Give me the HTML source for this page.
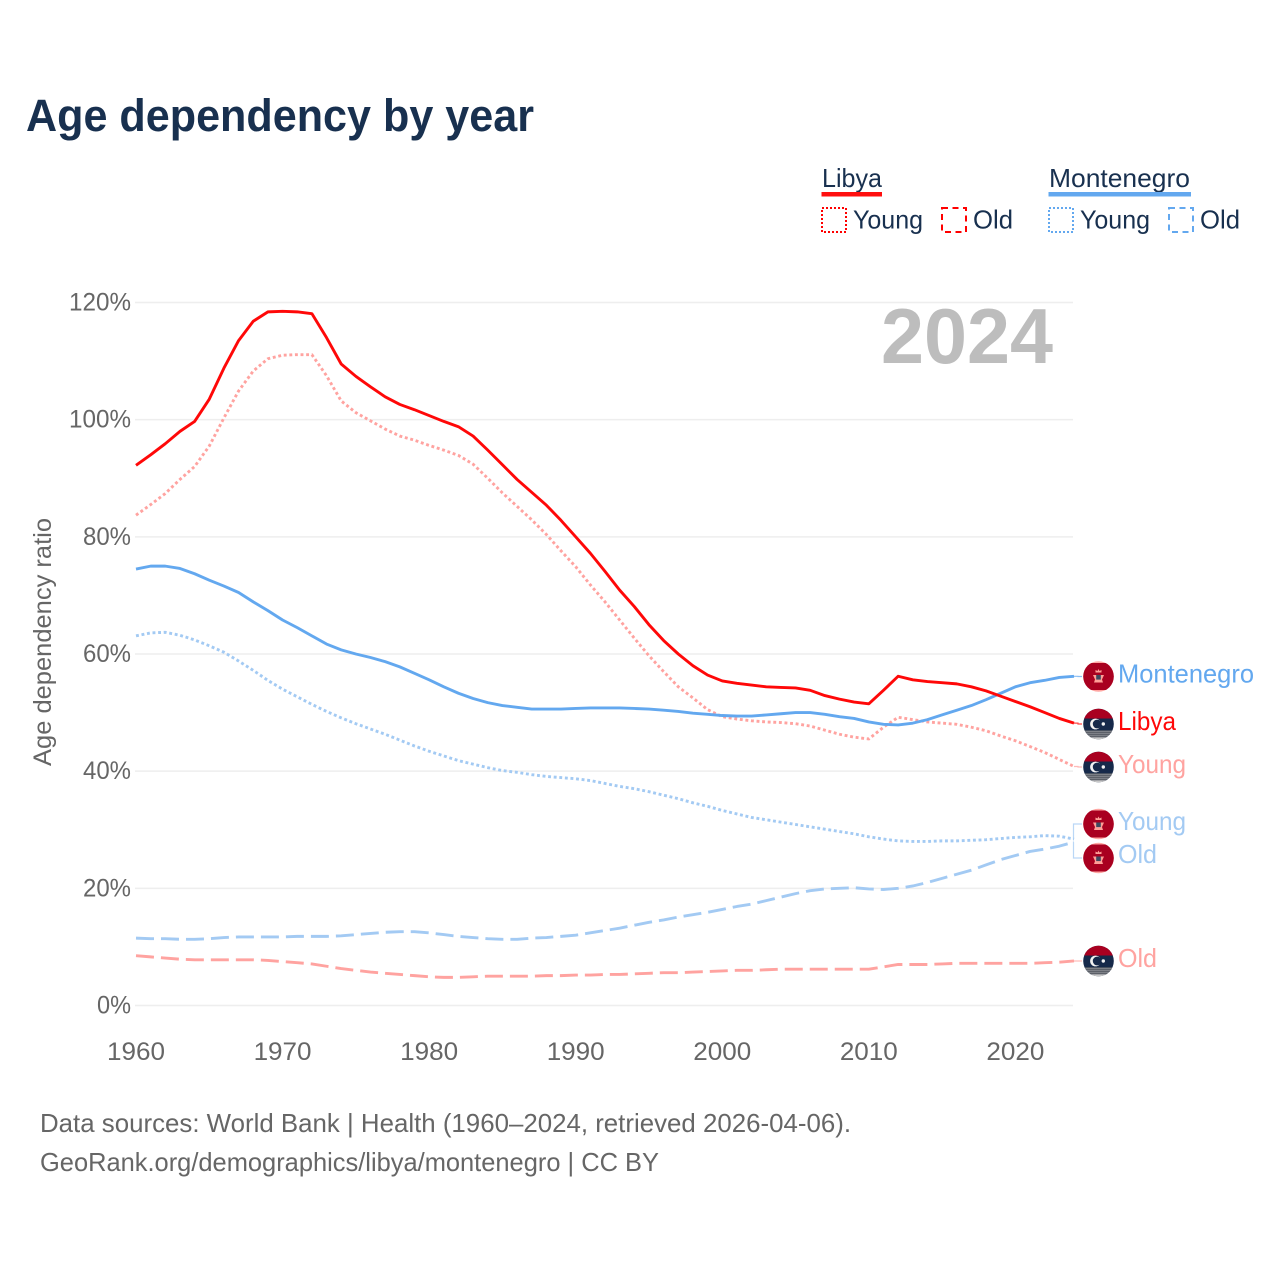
<!DOCTYPE html>
<html lang="en">
<head>
<meta charset="utf-8">
<title>Age dependency by year</title>
<style>
html,body{margin:0;padding:0;background:#fff;width:1280px;height:1280px;overflow:hidden}
svg{display:block}
text{font-family:"Liberation Sans",sans-serif}
</style>
</head>
<body>
<svg id="chart" xmlns="http://www.w3.org/2000/svg" width="1280" height="1280" viewBox="0 0 1280 1280">
  <defs>
    <clipPath id="flag-clip-a"><circle cx="0" cy="0" r="15.300"/></clipPath>
    <pattern id="flag-dots" width="2" height="2" patternUnits="userSpaceOnUse">
      <rect width="2" height="2" fill="#7d8087"/>
      <rect width="1" height="1" fill="#3c4048"/>
    </pattern>
    <g id="flag-libya">
      <g clip-path="url(#flag-clip-a)">
        <rect x="-16" y="-16" width="32" height="32" fill="#16294a"/>
        <rect x="-16" y="-16" width="32" height="10.500" fill="#a90020"/>
        <rect x="-16" y="6.300" width="32" height="10" fill="url(#flag-dots)"/>
        <rect x="-16" y="13.500" width="32" height="3" fill="#c9c9c9"/>
      </g>
      <circle cx="-3" cy="0" r="5.400" fill="#f2f2f2"/>
      <circle cx="-1.300" cy="0" r="4.400" fill="#16294a"/>
      <circle cx="4.800" cy="0" r="1.700" fill="#f2f2f2"/>
    </g>
    <g id="flag-montenegro">
      <circle cx="0" cy="0" r="15.300" fill="#ffa7a3"/>
      <g clip-path="url(#flag-clip-a)">
        <rect x="-16" y="-13.500" width="32" height="27" fill="#a90020"/>
      </g>
      <path d="M-3 -4 L-3 -6.500 L-1 -5.500 L0 -7.500 L1 -5.500 L3 -6.500 L3 -4 Z" fill="#ff9f97"/>
      <path d="M-5.500 -1.500 L5.500 -1.500 L3.500 3 L4.500 6 L-4.500 6 L-3.500 3 Z" fill="#ff9f97"/>
      <rect x="-2.300" y="-1.500" width="4.600" height="4.600" fill="#3c4a60"/>
    </g>
  </defs>

  <text x="26" y="131" font-size="45" font-weight="700" fill="#18304f" textLength="508" lengthAdjust="spacingAndGlyphs">Age dependency by year</text>

  <g>
    <text x="822" y="187" font-size="26" fill="#18304f" textLength="60" lengthAdjust="spacingAndGlyphs">Libya</text>
    <rect x="821.500" y="192" width="60.500" height="4.500" fill="#ff0f0f"/>
    <text x="1049" y="187" font-size="26" fill="#18304f" textLength="141" lengthAdjust="spacingAndGlyphs">Montenegro</text>
    <rect x="1048.500" y="192" width="142.500" height="4.500" fill="#63a8ef"/>

    <rect x="822" y="208" width="24" height="24" fill="none" stroke="#ff0000" stroke-width="2" stroke-dasharray="2 2"/>
    <text x="853" y="228.500" font-size="26" fill="#18304f" textLength="70" lengthAdjust="spacingAndGlyphs">Young</text>
    <rect x="942" y="208" width="24" height="24" fill="none" stroke="#ff0000" stroke-width="2" stroke-dasharray="6 4.500"/>
    <text x="973" y="228.500" font-size="26" fill="#18304f" textLength="40" lengthAdjust="spacingAndGlyphs">Old</text>

    <rect x="1049" y="208" width="24" height="24" fill="none" stroke="#63a8ef" stroke-width="2" stroke-dasharray="2 2"/>
    <text x="1080" y="228.500" font-size="26" fill="#18304f" textLength="70" lengthAdjust="spacingAndGlyphs">Young</text>
    <rect x="1169" y="208" width="24" height="24" fill="none" stroke="#63a8ef" stroke-width="2" stroke-dasharray="6 4.500"/>
    <text x="1200" y="228.500" font-size="26" fill="#18304f" textLength="40" lengthAdjust="spacingAndGlyphs">Old</text>
  </g>

  <g id="grid"></g>
  <g id="yticks"></g>
  <g id="xticks"></g>

  <text transform="translate(51,642) rotate(-90)" text-anchor="middle" font-size="25" fill="#666666" textLength="248" lengthAdjust="spacingAndGlyphs">Age dependency ratio</text>

  <text x="881" y="363" font-size="78" font-weight="700" fill="#bdbdbd" textLength="172" lengthAdjust="spacingAndGlyphs">2024</text>

  <g id="series"></g>
  <g id="ends"></g>

  <text x="40" y="1132" font-size="26" fill="#666666" textLength="811" lengthAdjust="spacingAndGlyphs">Data sources: World Bank | Health (1960–2024, retrieved 2026-04-06).</text>
  <text x="40" y="1171" font-size="26" fill="#666666" textLength="619" lengthAdjust="spacingAndGlyphs">GeoRank.org/demographics/libya/montenegro | CC BY</text>
</svg>

<script>
const startYear = 1960;
const endYear = 2024;
const yTickValues = [0, 20, 40, 60, 80, 100, 120];
const yTickLabels = ["0%", "20%", "40%", "60%", "80%", "100%", "120%"];
const xTickValues = [1960, 1970, 1980, 1990, 2000, 2010, 2020];
const xTickLabels = ["1960", "1970", "1980", "1990", "2000", "2010", "2020"];

const libyaOld = [8.5,8.3,8.1,7.9,7.8,7.8,7.8,7.8,7.8,7.7,7.5,7.3,7.1,6.7,6.3,6,5.7,5.5,5.3,5.1,4.9,4.8,4.8,4.9,5,5,5,5,5.1,5.1,5.2,5.2,5.3,5.3,5.4,5.5,5.6,5.6,5.7,5.8,5.9,6,6,6.1,6.2,6.2,6.2,6.2,6.2,6.2,6.2,6.6,7,7,7,7.1,7.2,7.2,7.2,7.2,7.2,7.2,7.3,7.4,7.6];
const montenegroOld = [11.5,11.4,11.4,11.3,11.3,11.4,11.6,11.7,11.7,11.7,11.7,11.8,11.8,11.8,11.9,12.1,12.3,12.5,12.6,12.6,12.4,12.1,11.8,11.6,11.4,11.3,11.3,11.5,11.6,11.8,12,12.4,12.8,13.2,13.7,14.2,14.6,15.1,15.5,15.9,16.4,16.9,17.3,17.9,18.5,19.1,19.6,19.9,20,20.1,19.9,19.8,20,20.4,21,21.7,22.4,23.1,24,24.9,25.6,26.3,26.7,27.2,27.9];
const montenegroYoung = [63.1,63.6,63.7,63.2,62.4,61.4,60.3,58.8,57.2,55.5,54,52.7,51.4,50.2,49.1,48.1,47.2,46.3,45.3,44.3,43.4,42.6,41.8,41.2,40.6,40.1,39.8,39.4,39.1,38.9,38.7,38.4,37.9,37.4,37,36.5,35.9,35.3,34.6,34,33.3,32.7,32.1,31.7,31.3,30.9,30.5,30.1,29.7,29.3,28.8,28.4,28.1,28,28,28.1,28.1,28.2,28.3,28.5,28.7,28.8,29,28.9,28.4];
const libyaYoung = [83.7,85.5,87.4,89.8,92,95.5,100.3,104.9,108.3,110.4,111,111.1,111.1,107.5,103.2,101.2,99.8,98.4,97.2,96.5,95.6,94.8,93.9,92.4,90,87.5,85.2,82.9,80.4,77.6,74.9,71.8,68.9,65.8,62.7,59.7,57,54.4,52.5,50.5,49.3,48.9,48.6,48.4,48.3,48.1,47.7,47,46.3,45.8,45.5,47.5,49.2,48.8,48.4,48.2,48,47.5,46.9,46,45.2,44.2,43.2,42,40.8];
const montenegroTotal = [74.5,75,75,74.6,73.7,72.6,71.6,70.5,68.9,67.4,65.8,64.5,63.1,61.7,60.7,60,59.4,58.7,57.8,56.7,55.6,54.4,53.3,52.4,51.7,51.2,50.9,50.6,50.6,50.6,50.7,50.8,50.8,50.8,50.7,50.6,50.4,50.2,49.9,49.7,49.5,49.4,49.4,49.6,49.8,50,50,49.7,49.3,49,48.4,48,47.9,48.2,48.8,49.6,50.4,51.2,52.2,53.3,54.4,55.1,55.5,56,56.2];
const libyaTotal = [92.2,94,95.9,98,99.7,103.5,108.8,113.5,116.8,118.4,118.5,118.4,118.1,114,109.5,107.4,105.6,103.9,102.6,101.7,100.7,99.7,98.8,97.2,94.8,92.3,89.8,87.6,85.4,82.8,80,77.2,74.1,70.9,68.1,65,62.3,60,58,56.4,55.4,55,54.7,54.4,54.3,54.2,53.8,52.9,52.3,51.8,51.5,53.8,56.2,55.6,55.3,55.1,54.9,54.4,53.7,52.8,51.9,51,50,49,48.2];

const SVGNS = "http://www.w3.org/2000/svg";
const plotLeft = 136;
const plotRight = 1074;
const plotBottom = 1005.5;
const plotTop = 302.5;
const yMax = 120;

function xScale(year) {
  return plotLeft + (year - startYear) * (plotRight - plotLeft) / (endYear - startYear);
}
function yScale(value) {
  return plotBottom - value * (plotBottom - plotTop) / yMax;
}
function makeEl(tag) {
  return document.createElementNS(SVGNS, tag);
}
function setAttrs(el, attrs) {
  for (const k in attrs) el.setAttribute(k, attrs[k]);
}
function linePath(values) {
  return values.map(function (v, i) {
    return (i ? "L" : "M") + xScale(startYear + i).toFixed(2) + " " + yScale(v).toFixed(2);
  }).join(" ");
}

const gridGroup = document.getElementById("grid");
const yTickGroup = document.getElementById("yticks");
const xTickGroup = document.getElementById("xticks");
const seriesGroup = document.getElementById("series");
const endsGroup = document.getElementById("ends");

yTickValues.forEach(function (v, i) {
  const line = makeEl("line");
  
  
  setAttrs(line, {x1: plotLeft - 1, x2: plotRight - 1, y1: yScale(v), y2: yScale(v), stroke: "#eeeeee", "stroke-width": 1.5});
  gridGroup.appendChild(line);

  const t = makeEl("text");
  
  
  const label = yTickLabels[i];
  setAttrs(t, {x: 131, y: yScale(v) + 8, "text-anchor": "end", "font-size": 25, fill: "#666666", textLength: (label.length - 1) * 14 + 20, lengthAdjust: "spacingAndGlyphs"});
  t.textContent = label;
  yTickGroup.appendChild(t);
});

xTickValues.forEach(function (v, i) {
  const t = makeEl("text");
  
  
  setAttrs(t, {x: xScale(v), y: 1060, "text-anchor": "middle", "font-size": 25, fill: "#666666", textLength: 58, lengthAdjust: "spacingAndGlyphs"});
  t.textContent = xTickLabels[i];
  xTickGroup.appendChild(t);
});

function addSeries(name, values, color, dash) {
  const p = makeEl("path");
  
  
  setAttrs(p, {d: linePath(values), fill: "none", stroke: color, "stroke-width": 2.9, "stroke-linejoin": "round"});
  if (dash) p.setAttribute("stroke-dasharray", dash);
  seriesGroup.appendChild(p);
}
const redStrong = "#ff0808";
const blueStrong = "#63a8ef";
const redSoft = "#ffa3a0";
const blueSoft = "#a3caf3";
addSeries("line-libya-old", libyaOld, redSoft, "18 7");
addSeries("line-montenegro-old", montenegroOld, blueSoft, "18 7");
addSeries("line-montenegro-young", montenegroYoung, blueSoft, "2.9 2.7");
addSeries("line-libya-young", libyaYoung, redSoft, "2.9 2.7");
addSeries("line-montenegro-total", montenegroTotal, blueStrong, "");
addSeries("line-libya-total", libyaTotal, redStrong, "");

function addEnd(name, label, flag, color, textWidth, flagY, textOffset, endValue, bracket) {
  const lastY = yScale(endValue);
  const conn = makeEl("path");
  
  
  const d = bracket
    ? "M1074 " + lastY.toFixed(1) + " H1073.500 V" + flagY + " H1082"
    : "M1074 " + lastY.toFixed(1) + " H1078 V" + flagY + " H1082";
  setAttrs(conn, {d: d, fill: "none", stroke: color, "stroke-width": 1.2, opacity: 0.75});
  endsGroup.appendChild(conn);

  const use = makeEl("use");
  
  
  use.setAttribute("href", "#" + flag);
  use.setAttribute("transform", "translate(1098.500," + flagY + ")");
  endsGroup.appendChild(use);

  const t = makeEl("text");
  
  
  setAttrs(t, {x: 1118, y: flagY + textOffset, "font-size": 26, fill: color, textLength: textWidth, lengthAdjust: "spacingAndGlyphs"});
  t.textContent = label;
  endsGroup.appendChild(t);
}
addEnd("end-montenegro", "Montenegro", "flag-montenegro", blueStrong, 136, 676.5, 6, montenegroTotal[montenegroTotal.length - 1], false);
addEnd("end-libya", "Libya", "flag-libya", redStrong, 58, 724, 6, libyaTotal[libyaTotal.length - 1], false);
addEnd("end-libya-young", "Young", "flag-libya", redSoft, 68, 767, 6, libyaYoung[libyaYoung.length - 1], false);
addEnd("end-montenegro-young", "Young", "flag-montenegro", blueSoft, 68, 824, 6, montenegroYoung[montenegroYoung.length - 1], true);
addEnd("end-montenegro-old", "Old", "flag-montenegro", blueSoft, 39, 858, 5, montenegroOld[montenegroOld.length - 1], true);
addEnd("end-libya-old", "Old", "flag-libya", redSoft, 39, 961, 6, libyaOld[libyaOld.length - 1], false);
</script>
</body>
</html>
